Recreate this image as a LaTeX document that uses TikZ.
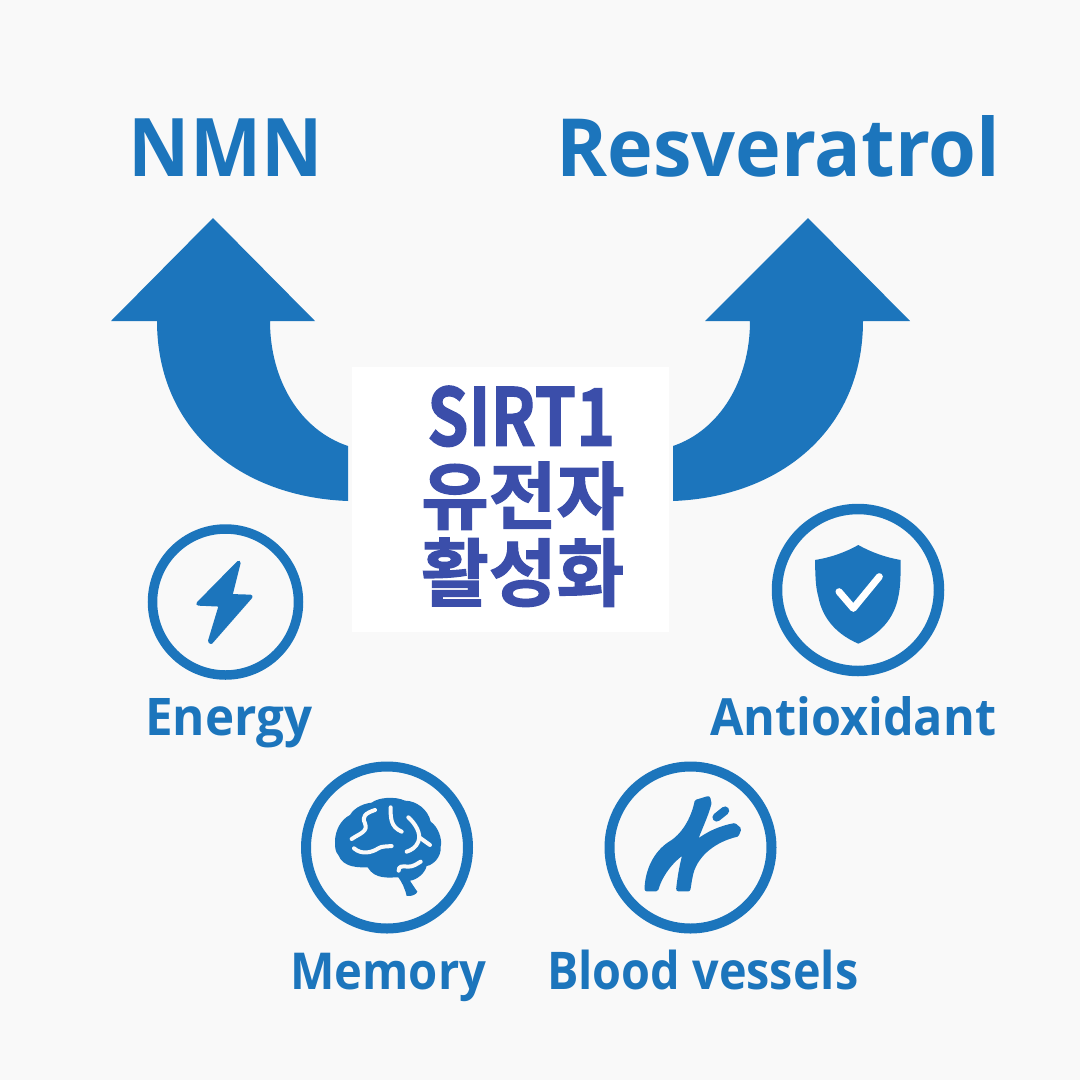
\documentclass[tikz,border=0pt]{standalone}
\usepackage{fontspec}
\usepackage{graphicx}
\setmainfont{Open Sans}[BoldFont={Open Sans Bold}]
\newfontfamily\krfont{Noto Sans CJK KR Bold}[FakeBold=1.6]
\definecolor{mainblue}{HTML}{1C75BC}
\definecolor{deepblue}{HTML}{3B4EAA}
\definecolor{bggray}{HTML}{F9F9F9}
\tikzset{
  lbl/.style={anchor=base west,inner sep=0pt,text=mainblue,font=\bfseries},
  krl/.style={anchor=south west,inner sep=0pt,text=deepblue,font=\krfont},
  ring/.style={draw=mainblue,fill=none},
  glyphfill/.style={fill=mainblue,draw=mainblue,line width=5pt,line join=round},
  boltfill/.style={fill=mainblue,draw=mainblue,line width=4pt,line join=round},
  squiggle/.style={draw=bggray,line width=4pt,line cap=round,line join=round}
}
\newcommand{\fitb}[3]{\resizebox*{#1pt}{#2pt}{#3}}
\newcommand{\fith}[3]{\resizebox{#1pt}{#2pt}{#3}}
\begin{document}
\begin{tikzpicture}[x=1pt,y=-1pt]
\useasboundingbox (0,0) rectangle (1080,1080);
\fill[bggray] (0,0) rectangle (1080,1080);
% arrows
\fill[mainblue] (213,218) -- (315,321) -- (270,321)
  .. controls (270,380) and (300,430) .. (348,446) -- (348,501)
  .. controls (240,497) and (157,430) .. (157,321) -- (111,321) -- cycle;
\fill[mainblue] (808,218) -- (910,321) -- (863,321)
  .. controls (863,430) and (780,497) .. (673,501) -- (673,446)
  .. controls (720,430) and (750,380) .. (750,321) -- (705,321) -- cycle;
% centre box
\fill[white] (352,367) rectangle (669,632);
\node[krl] (sirt) at (427,447) {\fitb{188}{61}{SIRT1}};
\node[krl] (gene) at (421,530) {\fitb{203}{68}{유전자}};
\node[krl] (act) at (421,607) {\fitb{203}{69}{활성화}};
% titles
\node[lbl] (nmn) at (128.5,176) {\fith{194}{57.7}{NMN}};
\node[lbl] (res) at (556,176) {\fith{444}{61}{Resveratrol}};
% rings
\draw[ring,line width=9.5pt] (225.5,602) circle (73);
\draw[ring,line width=10.5pt] (858,590) circle (81);
\draw[ring,line width=10pt] (387,847.5) circle (81);
\draw[ring,line width=10pt] (690.5,847.5) circle (81);
% bolt
\begin{scope}[shift={(140,520)},scale=0.3333]
\path[boltfill] (296,128) -- (271,228) -- (332,230) -- (213,366) -- (210,363) -- (243,254) -- (175,251) -- cycle;
\end{scope}
% shield
\begin{scope}[shift={(770,500)},scale=0.3333]
\fill[mainblue] (265,135) .. controls (300,155) and (345,172) .. (392,180)
  .. controls (392,220) and (392,260) .. (385,290)
  .. controls (372,360) and (325,405) .. (265,431)
  .. controls (205,405) and (158,360) .. (145,290)
  .. controls (136,260) and (136,220) .. (135,180)
  .. controls (185,172) and (230,155) .. (265,135) -- cycle;
\draw[white,line width=7pt,line cap=round,line join=round] (207,275) -- (250,325) -- (328,230);
\end{scope}
% brain
\begin{scope}[shift={(300,760)},scale=0.3333]
\fill[mainblue] (105,245)
  .. controls (105,215) and (120,180) .. (150,165)
  .. controls (165,140) and (195,130) .. (215,128)
  .. controls (235,112) and (285,108) .. (315,122)
  .. controls (350,122) and (385,150) .. (392,185)
  .. controls (415,200) and (428,240) .. (422,260)
  .. controls (425,290) and (400,315) .. (380,318)
  .. controls (375,340) and (350,360) .. (330,362)
  .. controls (338,375) and (345,385) .. (352,395)
  .. controls (350,403) and (335,410) .. (320,408)
  .. controls (315,385) and (305,365) .. (295,352)
  .. controls (270,352) and (225,360) .. (203,322)
  .. controls (180,322) and (130,325) .. (115,285)
  .. controls (105,275) and (105,260) .. (105,245) -- cycle;
\draw[squiggle] (225,150) .. controls (195,160) and (185,170) .. (195,190)
  .. controls (205,215) and (180,220) .. (155,237);
\draw[squiggle] (162,265) .. controls (185,285) and (215,278) .. (235,265)
  .. controls (245,258) and (260,260) .. (275,258);
\draw[squiggle] (272,142) .. controls (272,170) and (270,200) .. (305,215);
\draw[squiggle] (325,172) .. controls (345,190) and (365,220) .. (355,245)
  .. controls (348,262) and (335,270) .. (320,275);
\draw[squiggle] (358,232) -- (390,255);
\draw[squiggle] (296,332) .. controls (296,318) and (305,318) .. (325,320)
  .. controls (340,320) and (350,312) .. (362,305);
\end{scope}
% vessels
\begin{scope}[shift={(600,760)},scale=0.3333]
\path[glyphfill] (141,387)
  .. controls (143,330) and (168,280) .. (210,252)
  .. controls (250,229) and (280,180) .. (291,126)
  -- (324,116) -- (327,130)
  .. controls (317,170) and (294,213) .. (281,255)
  .. controls (325,219) and (365,204) .. (403,197)
  -- (416,208) -- (410,223)
  .. controls (345,238) and (289,280) .. (273,338)
  .. controls (268,358) and (266,378) .. (264,387)
  -- (236,387)
  .. controls (240,350) and (246,315) .. (258,271)
  .. controls (220,293) and (182,338) .. (168,387)
  -- cycle;
\draw[mainblue,line width=8.5pt,line cap=round] (350,172) -- (375,152);
\end{scope}
% labels
\node[lbl] (energy) at (145,735) {\fith{167}{37}{Energy}};
\node[lbl] (anti) at (710,735) {\fith{286}{39}{Antioxidant}};
\node[lbl] (mem) at (290,989) {\fith{196}{36.3}{Memory}};
\node[lbl] (blood) at (547,989) {\fith{311}{39.5}{Blood vessels}};
\end{tikzpicture}
\end{document}
